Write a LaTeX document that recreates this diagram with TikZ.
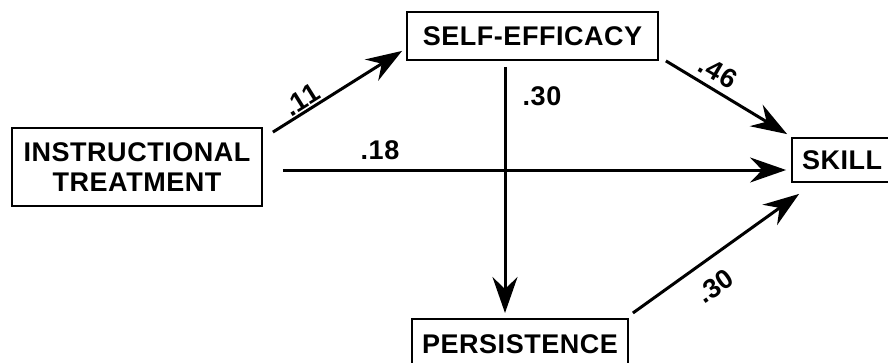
\documentclass[tikz,border=0pt]{standalone}
\usepackage{fontspec}
\setmainfont{Liberation Sans}[LetterSpace=2]
\usetikzlibrary{arrows.meta}
\begin{document}
\begin{tikzpicture}[x=1pt,y=-1pt,
  box/.style={draw, line width=1.8pt, inner sep=0pt, align=center,
    font=\fontsize{27}{30}\selectfont\bfseries},
  arr/.style={line width=3pt, -{Stealth[length=36pt,width=25pt,inset=12pt]}},
  coef/.style={font=\fontsize{27}{30}\selectfont\bfseries, inner sep=0pt}]
\useasboundingbox (0,0) rectangle (888,362);

% boxes
\node[box, minimum width=250pt, minimum height=78pt] (it) at (137,167) {INSTRUCTIONAL\\TREATMENT};
\node[box, minimum width=251pt, minimum height=48pt] (se) at (532.5,36) {SELF-EFFICACY};
\node[box, minimum width=112pt, minimum height=44pt, text width=100pt, align=left] (sk) at (848,160) {\hspace*{4pt}SKILL};
\node[box, minimum width=216pt, minimum height=56pt, anchor=north] (pe) at (520,318) {\raisebox{6pt}{PERSISTENCE}};

% paths
\draw[arr] ([shift={(10,5)}]it.north east) -- ([shift={(-4,-10)}]se.south west);
\draw[arr] ([shift={(20,3)}]it.east) -- ([shift={(-5,10)}]sk.west);
\draw[arr] ([shift={(-27.5,6)}]se.south) -- ([shift={(-15,-5)}]pe.north);
\draw[arr] ([shift={(7,0)}]se.south east) -- ([shift={(-4,-3)}]sk.north west);
\draw[arr] ([shift={(4,-5)}]pe.north east) -- ([shift={(8,11)}]sk.south west);

% path coefficients
\node[coef, rotate=32] (c1) at (302,100) {.11};
\node[coef] (c2) at (542,96) {.30};
\node[coef] (c3) at (380,150) {.18};
\node[coef, rotate=-30] (c4) at (718,72) {.46};
\node[coef, rotate=35] (c5) at (715,286) {.30};
\end{tikzpicture}
\end{document}
